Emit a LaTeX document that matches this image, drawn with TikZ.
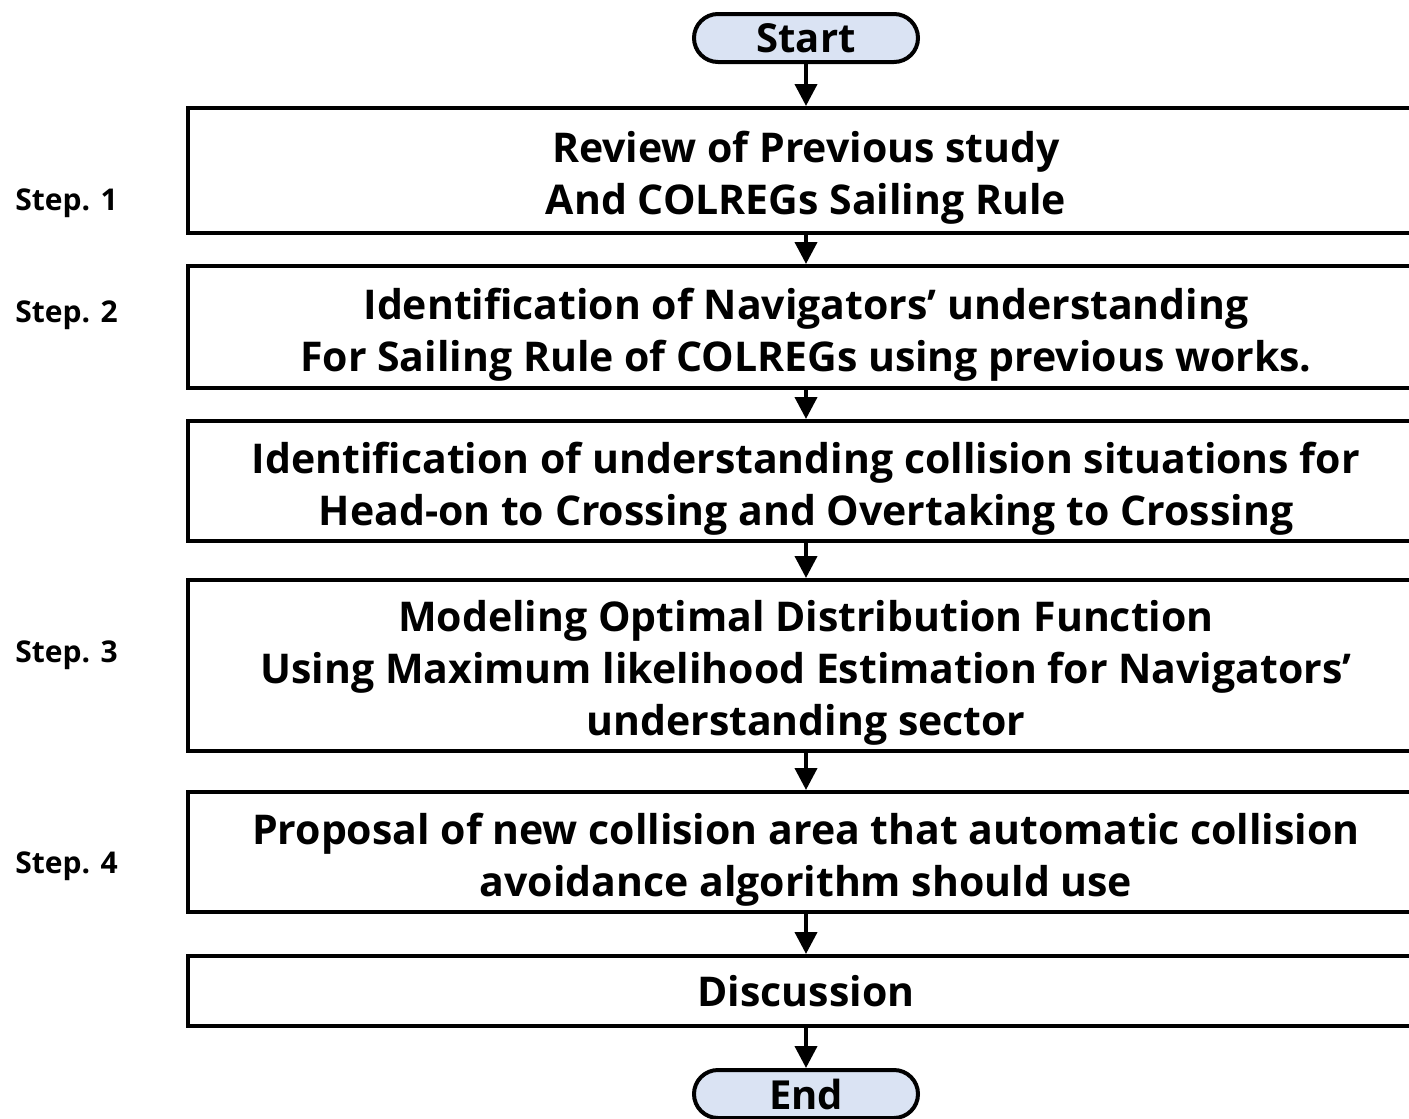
\documentclass[tikz,border=0pt]{standalone}
\usepackage{fontspec}
\setmainfont{Open Sans}
\usetikzlibrary{arrows.meta}
\definecolor{termblue}{HTML}{DAE3F3}
\newcommand{\topgap}{\rule{0pt}{23pt}}

\tikzset{
  stepbox/.style={draw,line width=2pt,minimum width=618pt,align=center,inner sep=0pt,
    font=\fontsize{20.5}{26}\selectfont\bfseries},
  termbox/.style={draw,line width=2pt,fill=termblue,rounded corners=12pt,minimum width=112pt,
    minimum height=24pt,inner sep=0pt,font=\fontsize{20}{22}\selectfont\bfseries},
  steplabel/.style={anchor=west,inner sep=0pt,font=\fontsize{15}{17}\selectfont\bfseries},
  flow/.style={-{Triangle[length=11pt,width=11pt]},line width=2pt}
}

\begin{document}
\begin{tikzpicture}[x=0.5pt,y=-0.5pt]
    \useasboundingbox (0,0) rectangle (1409,1119);
    % flow chart
    \node[termbox] (start) at (806,38) {Start};
    \node[stepbox,minimum height=62.5pt] (review) at (806,170.5) {\topgap Review of Previous study\\And COLREGs Sailing Rule};
    \node[stepbox,minimum height=61pt] (ident) at (806,327) {\topgap Identification of Navigators’ understanding\\For Sailing Rule of COLREGs using previous works.};
    \node[stepbox,minimum height=60pt] (situ) at (806,481) {\topgap Identification of understanding collision situations for\\Head-on to Crossing and Overtaking to Crossing};
    \node[stepbox,minimum height=85.5pt] (model) at (806,665.5) {\topgap Modeling Optimal Distribution Function\\Using Maximum likelihood Estimation for Navigators’\\understanding sector};
    \node[stepbox,minimum height=60pt] (prop) at (806,852) {\topgap Proposal of new collision area that automatic collision\\avoidance algorithm should use};
    \node[stepbox,minimum height=35pt] (disc) at (806,991) {Discussion};
    \node[termbox] (end) at (806,1094) {End};
    \draw[flow] (start) -- (review);
    \draw[flow] (review) -- (ident);
    \draw[flow] (ident) -- (situ);
    \draw[flow] (situ) -- (model);
    \draw[flow] (model) -- (prop);
    \draw[flow] (prop) -- (disc);
    \draw[flow] (disc) -- (end);
    % step labels
    \node[steplabel] (s1) at (15,203) {Step. 1};
    \node[steplabel] (s2) at (15,315) {Step. 2};
    \node[steplabel] (s3) at (15,655) {Step. 3};
    \node[steplabel] (s4) at (15,866) {Step. 4};
\end{tikzpicture}
\end{document}
